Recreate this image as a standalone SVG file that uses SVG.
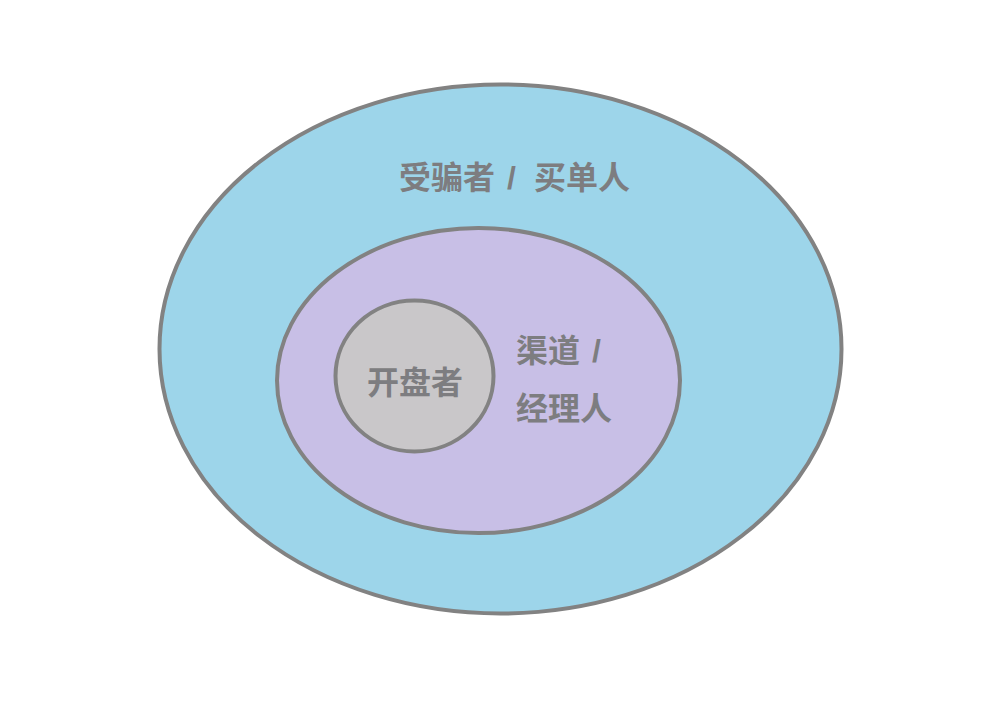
<svg xmlns="http://www.w3.org/2000/svg" width="1001" height="716" viewBox="0 0 1001 716">
<style>
.ring{stroke:#828282;stroke-width:4}
.t{font-family:"Liberation Sans","Noto Sans CJK SC",sans-serif;font-weight:bold;font-size:32px;fill:#7d7d80}
</style>
<rect width="1001" height="716" fill="#ffffff"/>
<g id="outer">
<ellipse class="ring" cx="500.5" cy="349" rx="341" ry="264.5" fill="#9dd5ea"/>
<text class="t" y="189"><tspan x="399">受骗者</tspan><tspan x="507">/</tspan><tspan x="534">买单人</tspan></text>
</g>
<g id="middle">
<ellipse class="ring" cx="478.5" cy="380.5" rx="201.5" ry="152.5" fill="#c8bfe6"/>
<text class="t" y="362"><tspan x="516">渠道</tspan><tspan x="592">/</tspan></text>
<text class="t" x="516" y="420">经理人</text>
</g>
<g id="inner">
<ellipse class="ring" cx="414.5" cy="376" rx="79" ry="75.5" fill="#c9c7c9"/>
<text class="t" x="415" y="394" text-anchor="middle">开盘者</text>
</g>
<g id="connectors"></g>
</svg>
